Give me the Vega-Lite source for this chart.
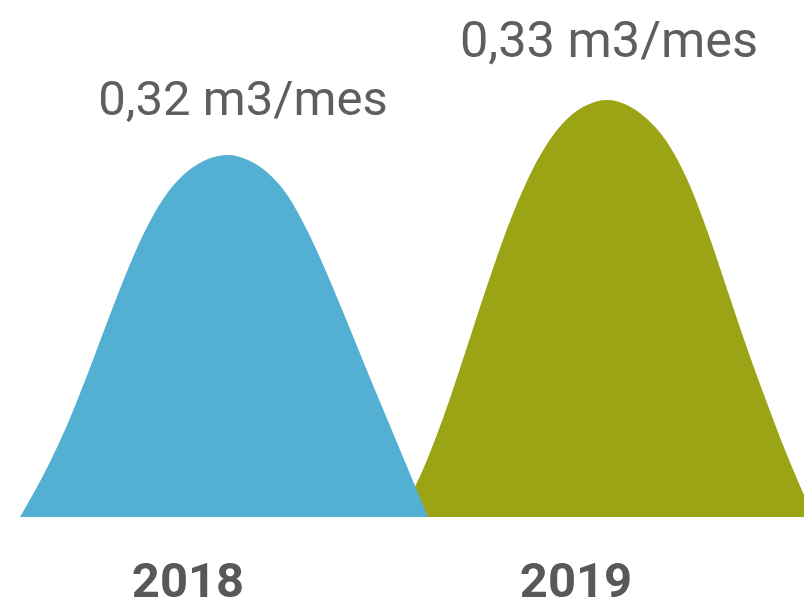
{
  "$schema": "https://vega.github.io/schema/vega-lite/v6.json",
  "width": 804,
  "height": 603,
  "padding": 0,
  "autosize": {"type": "none"},
  "background": "#ffffff",
  "config": {"view": {"stroke": null}},
  "datasets": {
    "curves": [
      {"serie": "2018", "x": 20, "h": 0},
      {"serie": "2018", "x": 48, "h": 51},
      {"serie": "2018", "x": 68, "h": 94},
      {"serie": "2018", "x": 88, "h": 144},
      {"serie": "2018", "x": 108, "h": 197},
      {"serie": "2018", "x": 128, "h": 248},
      {"serie": "2018", "x": 148, "h": 292},
      {"serie": "2018", "x": 168, "h": 325},
      {"serie": "2018", "x": 188, "h": 346},
      {"serie": "2018", "x": 208, "h": 358},
      {"serie": "2018", "x": 228, "h": 362},
      {"serie": "2018", "x": 248, "h": 357},
      {"serie": "2018", "x": 268, "h": 344},
      {"serie": "2018", "x": 288, "h": 321},
      {"serie": "2018", "x": 308, "h": 285},
      {"serie": "2018", "x": 328, "h": 241},
      {"serie": "2018", "x": 348, "h": 193},
      {"serie": "2018", "x": 368, "h": 144},
      {"serie": "2018", "x": 388, "h": 96},
      {"serie": "2018", "x": 408, "h": 48},
      {"serie": "2018", "x": 428, "h": 0},
      {"serie": "2019", "x": 400, "h": 0},
      {"serie": "2019", "x": 427, "h": 57},
      {"serie": "2019", "x": 447, "h": 110},
      {"serie": "2019", "x": 467, "h": 170},
      {"serie": "2019", "x": 487, "h": 231},
      {"serie": "2019", "x": 507, "h": 288},
      {"serie": "2019", "x": 527, "h": 336},
      {"serie": "2019", "x": 547, "h": 373},
      {"serie": "2019", "x": 567, "h": 398},
      {"serie": "2019", "x": 587, "h": 412},
      {"serie": "2019", "x": 607, "h": 417},
      {"serie": "2019", "x": 627, "h": 412},
      {"serie": "2019", "x": 647, "h": 398},
      {"serie": "2019", "x": 667, "h": 375},
      {"serie": "2019", "x": 687, "h": 338},
      {"serie": "2019", "x": 707, "h": 287},
      {"serie": "2019", "x": 727, "h": 228},
      {"serie": "2019", "x": 747, "h": 169},
      {"serie": "2019", "x": 767, "h": 114},
      {"serie": "2019", "x": 787, "h": 62},
      {"serie": "2019", "x": 814, "h": 0}
    ],
    "labels": [
      {"serie": "2018", "x": 228, "h": 362, "valor": "0,32 m3/mes"},
      {"serie": "2019", "x": 607, "h": 417, "valor": "0,33 m3/mes"}
    ]
  },
  "encoding": {
    "x": {"field": "x", "type": "quantitative", "scale": {"domain": [0, 804], "nice": false, "zero": false}, "axis": null},
    "y": {"field": "h", "type": "quantitative", "scale": {"domain": [-86, 517], "nice": false, "zero": false}, "axis": null}
  },
  "layer": [
    {
      "data": {"name": "curves"},
      "transform": [{"filter": "datum.serie === '2019'"}],
      "mark": {"type": "area", "interpolate": "monotone", "color": "#9ba414", "clip": true, "opacity": 1}
    },
    {
      "data": {"name": "curves"},
      "transform": [{"filter": "datum.serie === '2018'"}],
      "mark": {"type": "area", "interpolate": "monotone", "color": "#54b0d2", "clip": true, "opacity": 1}
    },
    {
      "data": {"name": "labels"},
      "transform": [{"filter": "datum.serie === '2018'"}],
      "mark": {"type": "text", "font": "Roboto", "fontSize": 49, "fontWeight": "normal", "color": "#5e5e5e", "align": "center", "baseline": "alphabetic", "dx": 15, "dy": -40},
      "encoding": {"text": {"field": "valor"}}
    },
    {
      "data": {"name": "labels"},
      "transform": [{"filter": "datum.serie === '2019'"}],
      "mark": {"type": "text", "font": "Roboto", "fontSize": 50.5, "fontWeight": "normal", "color": "#5e5e5e", "align": "center", "baseline": "alphabetic", "dx": 2, "dy": -43},
      "encoding": {"text": {"field": "valor"}}
    },
    {
      "data": {"name": "labels"},
      "transform": [{"filter": "datum.serie === '2018'"}],
      "mark": {"type": "text", "font": "Roboto", "fontSize": 49, "fontWeight": "bold", "color": "#58585a", "align": "center", "baseline": "alphabetic", "dx": -40, "dy": 80},
      "encoding": {"y": {"datum": 0}, "text": {"field": "serie"}}
    },
    {
      "data": {"name": "labels"},
      "transform": [{"filter": "datum.serie === '2019'"}],
      "mark": {"type": "text", "font": "Roboto", "fontSize": 49, "fontWeight": "bold", "color": "#58585a", "align": "center", "baseline": "alphabetic", "dx": -31, "dy": 80},
      "encoding": {"y": {"datum": 0}, "text": {"field": "serie"}}
    }
  ]
}
